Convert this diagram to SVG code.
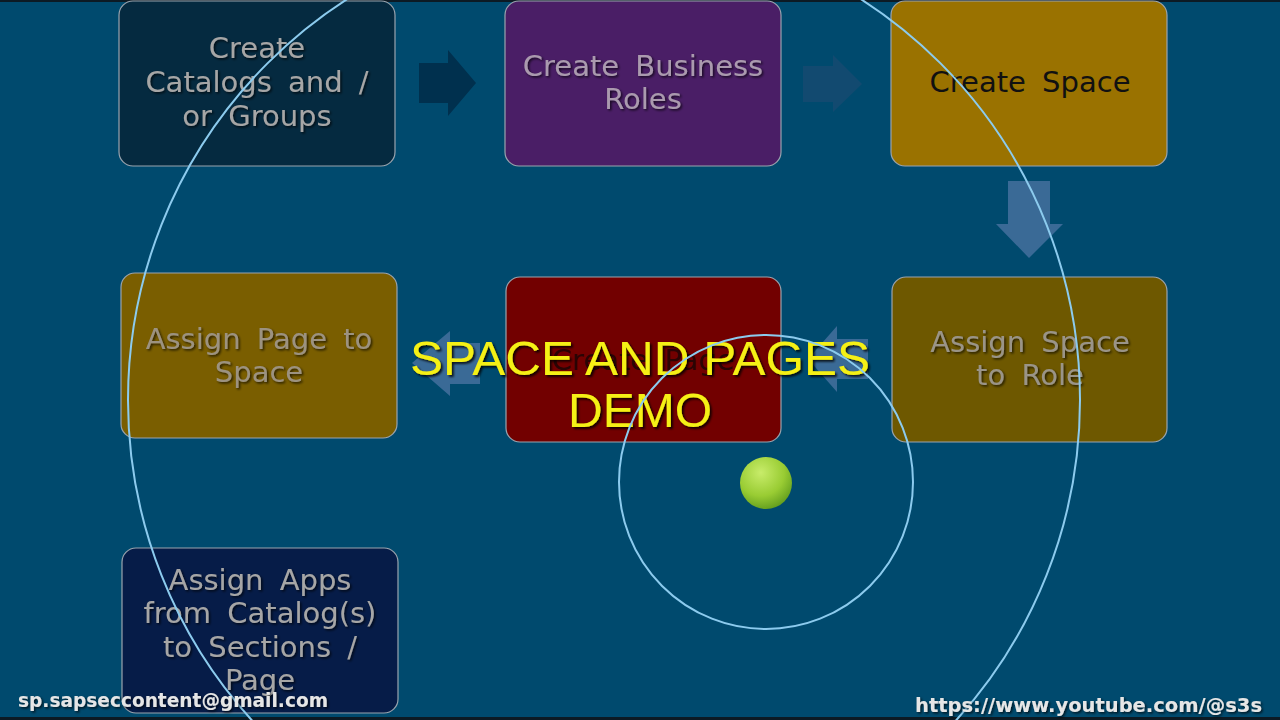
<svg xmlns="http://www.w3.org/2000/svg" width="1280" height="720" viewBox="0 0 1280 720">
<defs>
<style>
.box{stroke:#9aa4ae;stroke-width:1.2}
.lbl{font-family:"DejaVu Sans",Verdana,sans-serif;font-size:29px;word-spacing:7px;text-anchor:middle;fill:#a6a6a6;filter:url(#sh)}
.ttl{font-family:"Liberation Sans",Arial,sans-serif;font-size:48px;text-anchor:middle;fill:#f5f012;filter:url(#sh2)}
.orbit{fill:none;stroke:#8ccbee;stroke-width:2}
.foot{font-family:"DejaVu Sans",Verdana,sans-serif;font-weight:bold;font-size:20px;fill:#e6e6e6;filter:url(#sh)}
</style>
<filter id="sh" x="-10%" y="-20%" width="120%" height="140%"><feDropShadow dx="1.5" dy="1.5" stdDeviation="0.8" flood-color="#000" flood-opacity="0.7"/></filter>
<filter id="sh2" x="-10%" y="-20%" width="120%" height="140%"><feDropShadow dx="2" dy="2" stdDeviation="1" flood-color="#000" flood-opacity="0.8"/></filter>
<radialGradient id="ball" cx="0.4" cy="0.3" r="0.75"><stop offset="0" stop-color="#c8ec6a"/><stop offset="0.6" stop-color="#99cc33"/><stop offset="1" stop-color="#5e9a1c"/></radialGradient>
</defs>
<rect width="1280" height="720" fill="#004a6e"/>
<rect width="1280" height="2" fill="#0c1a24"/>
<rect y="717" width="1280" height="3" fill="#0c1a24"/>

<g id="connectors">
<polygon points="419,63 448,63 448,50 476,83 448,116 448,103 419,103" fill="#00304e"/>
<polygon points="803,66 833,66 833,55 862,84 833,112 833,102 803,102" fill="#124a70"/>
<polygon points="1008,181 1050,181 1050,224 1063,224 1029,258 996,224 1008,224" fill="#3a6a96"/>
<polygon points="868,339 837,339 837,326 808,359 837,392 837,379 868,379" fill="#3a6a96"/>
<polygon points="480,343 450,343 450,331 412,363 450,396 450,384 480,384" fill="#3a6a96"/>
</g>

<g id="n1"><rect class="box" x="119" y="1" width="276" height="165" rx="14" fill="#052a40"/>
<text class="lbl"><tspan x="257" y="58">Create</tspan><tspan x="257" y="92">Catalogs and /</tspan><tspan x="257" y="126">or Groups</tspan></text></g>
<g id="n2"><rect class="box" x="505" y="1" width="276" height="165" rx="14" fill="#4a1e66"/>
<text class="lbl" style="fill:#aa9aae"><tspan x="643" y="76">Create Business</tspan><tspan x="643" y="109">Roles</tspan></text></g>
<g id="n3"><rect class="box" x="891" y="1" width="276" height="165" rx="14" fill="#9a7200"/>
<text class="lbl" style="fill:#111;filter:none" x="1030" y="92">Create Space</text></g>
<g id="n4"><rect class="box" x="892" y="277" width="275" height="165" rx="14" fill="#6e5800"/>
<text class="lbl" style="fill:#9a9488"><tspan x="1030" y="352">Assign Space</tspan><tspan x="1030" y="385">to Role</tspan></text></g>
<g id="n5"><rect class="box" x="506" y="277" width="275" height="165" rx="14" fill="#720000"/>
<text class="lbl" style="fill:#2a0404;filter:none" x="643" y="370">Create Page</text></g>
<g id="n6"><rect class="box" x="121" y="273" width="276" height="165" rx="14" fill="#7a5e00"/>
<text class="lbl" style="fill:#9c9280"><tspan x="259" y="349">Assign Page to</tspan><tspan x="259" y="382">Space</tspan></text></g>
<g id="n7"><rect class="box" x="122" y="548" width="276" height="165" rx="14" fill="#061c48"/>
<text class="lbl"><tspan x="260" y="590">Assign Apps</tspan><tspan x="260" y="623">from Catalog(s)</tspan><tspan x="260" y="657">to Sections /</tspan><tspan x="260" y="690">Page</tspan></text></g>

<g id="title"><text class="ttl"><tspan x="640" y="375" textLength="460" lengthAdjust="spacingAndGlyphs">SPACE AND PAGES</tspan><tspan x="640" y="427">DEMO</tspan></text></g>

<g id="orbits">
<circle class="orbit" cx="604" cy="400" r="476"/>
<circle class="orbit" cx="766" cy="482" r="147"/>
<circle cx="766" cy="483" r="26" fill="url(#ball)"/>
</g>

<g id="footer">
<text class="foot" x="18" y="707" textLength="310" lengthAdjust="spacingAndGlyphs">sp.sapseccontent@gmail.com</text>
<text class="foot" x="915" y="712" textLength="347" lengthAdjust="spacingAndGlyphs">https://www.youtube.com/@s3s</text>
</g>
</svg>
